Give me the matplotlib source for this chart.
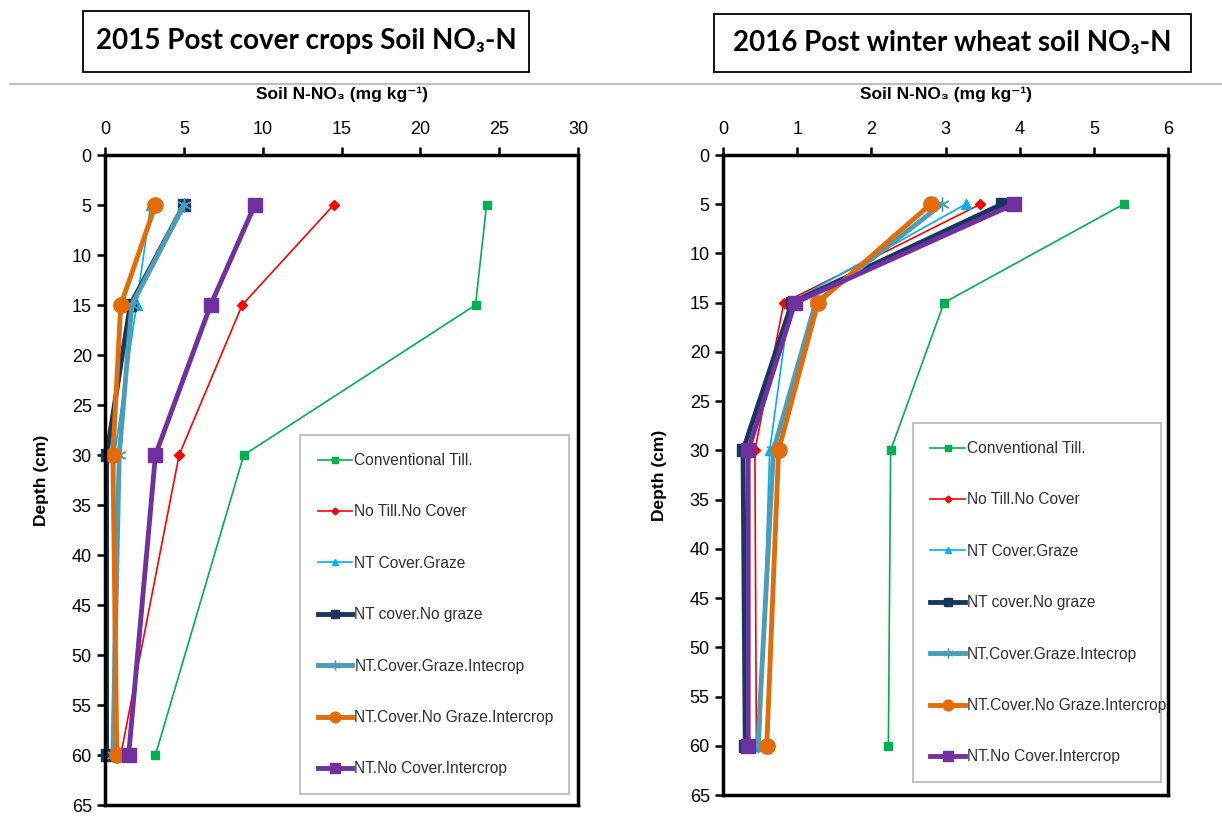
import matplotlib
matplotlib.use("Agg")
import matplotlib.pyplot as plt
from matplotlib.patches import Rectangle
from matplotlib.lines import Line2D

plt.rcParams['font.family'] = ['Liberation Sans', 'DejaVu Sans']

# depth of each sample (cm)
depth = [5, 15, 30, 60]

treatments = ["Conventional Till.", "No Till.No Cover", "NT Cover.Graze",
              "NT cover.No graze", "NT.Cover.Graze.Intecrop",
              "NT.Cover.No Graze.Intercrop", "NT.No Cover.Intercrop"]

# 2015 post cover crops soil NO3-N (mg/kg)
conv_2015 = [24.2, 23.5, 8.8, 3.2]
notill_2015 = [14.5, 8.7, 4.7, 1.0]
ntgraze_2015 = [2.9, 2.0, 0.6, 0.5]
ntnograze_2015 = [5.0, 1.6, 0.1, 0.1]
ntgrazeint_2015 = [5.0, 1.7, 0.9, 0.5]
ntnograzeint_2015 = [3.2, 1.0, 0.5, 0.75]
nocoverint_2015 = [9.5, 6.7, 3.2, 1.5]

# 2016 post winter wheat soil NO3-N (mg/kg)
conv_2016 = [5.4, 2.98, 2.26, 2.23]
notill_2016 = [3.47, 0.82, 0.43, 0.45]
ntgraze_2016 = [3.27, 0.9, 0.63, 0.5]
ntnograze_2016 = [3.76, 0.93, 0.27, 0.3]
ntgrazeint_2016 = [2.95, 1.25, 0.68, 0.47]
ntnograzeint_2016 = [2.8, 1.28, 0.75, 0.59]
nocoverint_2016 = [3.92, 0.97, 0.34, 0.34]

# colour, marker, line width, marker size
styles = [
    ('#00B050', 's', 1.2, 6),
    ('#FF0000', 'D', 1.2, 5),
    ('#00B0F0', '^', 1.2, 7),
    ('#17375E', 's', 3.5, 9),
    ('#4A9EB8', (6, 2, 0), 3.5, 10),
    ('#E36C09', 'o', 3.5, 11),
    ('#7030A0', 's', 3.5, 10),
]

W, H = 1222, 823
fig = plt.figure(figsize=(W / 100, H / 100), dpi=100)


def draw_panel(ax, series, xmax, xstep, legend_box):
    for vals, name, (col, mk, lw, ms) in zip(series, treatments, styles):
        ax.plot(vals, depth, color=col, marker=mk, lw=lw, ms=ms, label=name,
                mec=col, mfc=col, clip_on=False)
    ax.set_xlim(0, xmax)
    ax.set_ylim(65, 0)
    ax.set_xticks(range(0, xmax + 1, xstep))
    ax.set_yticks(range(0, 66, 5))
    ax.xaxis.tick_top()
    ax.xaxis.set_label_position('top')
    ax.tick_params(axis='both', labelsize=13, width=1.8, length=6, direction='out')
    ax.tick_params(axis='x', pad=6)
    for s in ax.spines.values():
        s.set_linewidth(2.5)
    ax.set_xlabel('Soil N-NO\u2083 (mg kg\u207b\u00b9)', fontsize=12.5,
                  fontweight='bold', labelpad=16)
    ax.set_ylabel('Depth (cm)', fontsize=12.5, fontweight='bold', labelpad=16)
    # legend box stretched to the same width as in the original
    leg = ax.legend(loc='upper left', bbox_to_anchor=legend_box, mode='expand',
                    fontsize=11.2, frameon=True, fancybox=False, edgecolor='#A6A6A6',
                    labelspacing=2.34, borderpad=1.15, handlelength=2.2,
                    handletextpad=0.15, markerscale=0.7, borderaxespad=0)
    leg.get_frame().set_linewidth(1.2)
    for t in leg.get_texts():
        t.set_color('#303030')


ax1 = fig.add_axes([105 / W, 1 - 805 / H, 473 / W, 650 / H])
draw_panel(ax1, [conv_2015, notill_2015, ntgraze_2015, ntnograze_2015,
                 ntgrazeint_2015, ntnograzeint_2015, nocoverint_2015],
           30, 5, (0.412, 0.0, 0.569, 0.569))

ax2 = fig.add_axes([723 / W, 1 - 795 / H, 445 / W, 640 / H])
draw_panel(ax2, [conv_2016, notill_2016, ntgraze_2016, ntnograze_2016,
                 ntgrazeint_2016, ntnograzeint_2016, nocoverint_2016],
           6, 1, (0.426, 0.0, 0.558, 0.581))

# boxed titles on top
for (x0, y0, x1, y1), txt in [((83, 11, 529, 72), '2015 Post cover crops Soil NO\u2083-N'),
                              ((714, 14, 1191, 72), '2016 Post winter wheat soil NO\u2083-N')]:
    fig.add_artist(Rectangle((x0 / W, 1 - y1 / H), (x1 - x0) / W, (y1 - y0) / H,
                             transform=fig.transFigure, fill=False,
                             edgecolor='black', lw=1.3))
    fig.text((x0 + x1) / 2 / W, 1 - (y0 + y1) / 2 / H, txt, ha='center', va='center',
             fontsize=20, fontweight='bold', family=['Lato', 'DejaVu Sans'])

# grey separator line
fig.add_artist(Line2D([10 / W, 1], [1 - 84 / H, 1 - 84 / H], transform=fig.transFigure,
                      color='#BFBFBF', lw=1.5))

fig.savefig('out.png', dpi=100)
